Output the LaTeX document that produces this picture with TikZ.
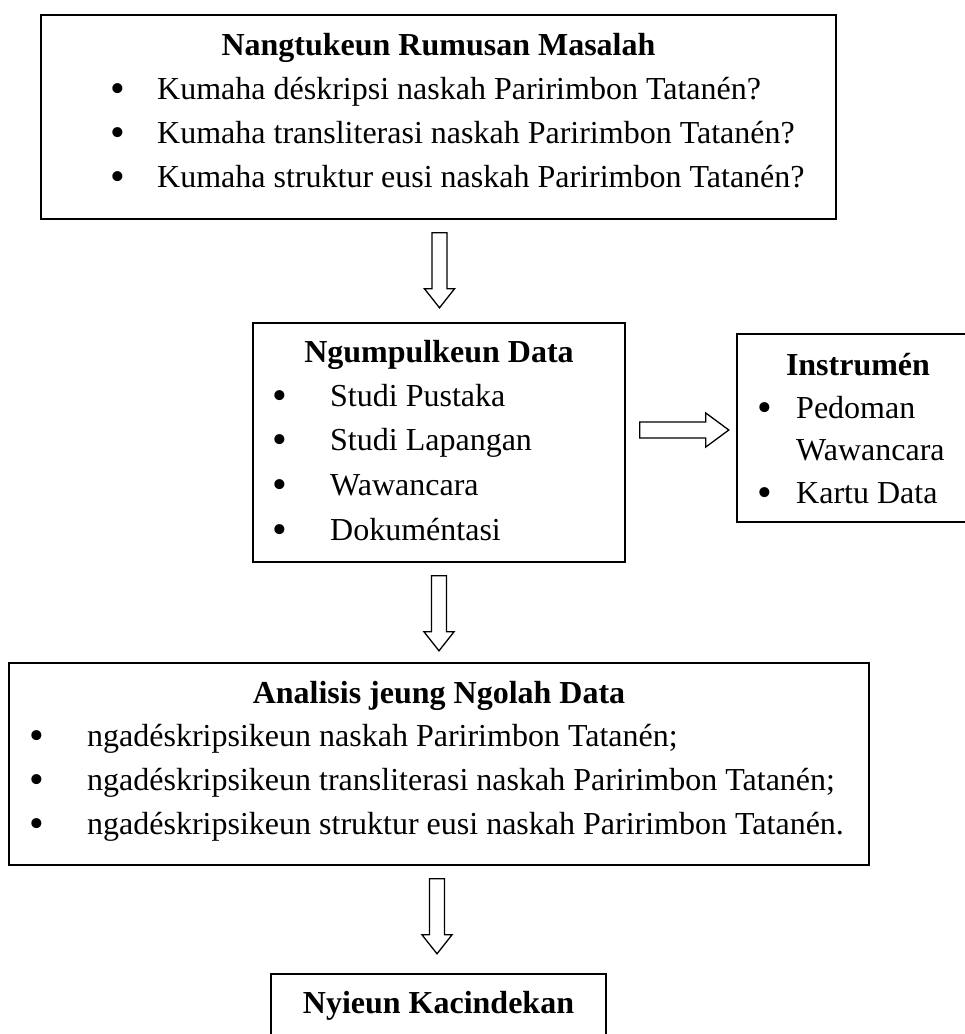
\documentclass[tikz,border=0pt]{standalone}
\usepackage{fontspec}
\setmainfont{Liberation Serif}
\usetikzlibrary{calc}

\begin{document}
\begin{tikzpicture}[
  x=1pt, y=-1pt,
  font=\fontsize{32}{38}\selectfont,
  box/.style={draw=black, line width=1.6pt, inner sep=0pt},
  head/.style={font=\fontsize{32}{38}\selectfont\bfseries, anchor=base, inner sep=0pt},
  item/.style={anchor=base west, inner sep=0pt},
  dot/.style={font=\fontsize{42}{42}\selectfont, anchor=base, inner sep=0pt, yshift=-3.5pt},
  hollow/.style={draw=black, line width=1.3pt, fill=white, line join=miter},
  dnarrow/.pic={\draw[hollow] (-7.5,0) -- (-7.5,56) -- (-15,56) -- (0,75) -- (15,56) -- (7.5,56) -- (7.5,0) -- cycle;},
  rtarrow/.pic={\draw[hollow] (0,-8) -- (66,-8) -- (66,-17) -- (89,0) -- (66,17) -- (66,8) -- (0,8) -- cycle;}]

\useasboundingbox (0,0) rectangle (965,1034);

% ---------- boxes
\node[box, minimum width=795pt, minimum height=204pt] (rumusan)     at (438.5,117)  {};
\node[box, minimum width=372pt, minimum height=239pt] (ngumpulkeun) at (439,442.5)  {};
\node[box, minimum width=242pt, minimum height=188pt] (instrumen)   at (858,428)    {};
\node[box, minimum width=860pt, minimum height=202pt] (analisis)    at (439,764)    {};
\node[box, minimum width=335pt, minimum height=80pt]  (kacindekan)  at (438.5,1014) {};

% ---------- box 1
\node[head] (h1) at (438.5,55) {Nangtukeun Rumusan Masalah};
\node[dot]  (d11) at (118,99)  {\textbullet};
\node[item] (t11) at (157,99)  {Kumaha déskripsi naskah Paririmbon Tatanén?};
\node[dot]  (d12) at (118,143) {\textbullet};
\node[item] (t12) at (157,143) {Kumaha transliterasi naskah Paririmbon Tatanén?};
\node[dot]  (d13) at (118,187) {\textbullet};
\node[item] (t13) at (157,187) {Kumaha struktur eusi naskah Paririmbon Tatanén?};

% ---------- box 2
\node[head] (h2) at (439,362) {Ngumpulkeun Data};
\node[dot]  (d21) at (280,406) {\textbullet};
\node[item] (t21) at (330,406) {Studi Pustaka};
\node[dot]  (d22) at (280,450) {\textbullet};
\node[item] (t22) at (330,450) {Studi Lapangan};
\node[dot]  (d23) at (280,495) {\textbullet};
\node[item] (t23) at (330,495) {Wawancara};
\node[dot]  (d24) at (280,540) {\textbullet};
\node[item] (t24) at (330,540) {Dokuméntasi};

% ---------- box 3
\node[head] (h3) at (858,375) {Instrumén};
\node[dot]  (d31) at (765,418) {\textbullet};
\node[item] (t31) at (796,418) {Pedoman};
\node[item] (t32) at (796,460) {Wawancara};
\node[dot]  (d33) at (765,503) {\textbullet};
\node[item] (t33) at (796,503) {Kartu Data};

% ---------- box 4
\node[head] (h4) at (439,703) {Analisis jeung Ngolah Data};
\node[dot]  (d41) at (37,746) {\textbullet};
\node[item] (t41) at (87,746) {ngadéskripsikeun naskah Paririmbon Tatanén;};
\node[dot]  (d42) at (37,790) {\textbullet};
\node[item] (t42) at (87,790) {ngadéskripsikeun transliterasi naskah Paririmbon Tatanén;};
\node[dot]  (d43) at (37,834) {\textbullet};
\node[item] (t43) at (87,834) {ngadéskripsikeun struktur eusi naskah Paririmbon Tatanén.};

% ---------- box 5
\node[head] (h5) at (438.5,1013) {Nyieun Kacindekan};

% ---------- block arrows between the boxes
\pic (a1) at ($(rumusan.south)+(1,13)$)      {dnarrow};
\pic (a2) at ($(ngumpulkeun.south)+(0,13)$)  {dnarrow};
\pic (a3) at ($(analisis.south)+(-2,13)$)    {dnarrow};
\pic (a4) at ($(ngumpulkeun.east)+(14,-12.5)$) {rtarrow};
\end{tikzpicture}
\end{document}
